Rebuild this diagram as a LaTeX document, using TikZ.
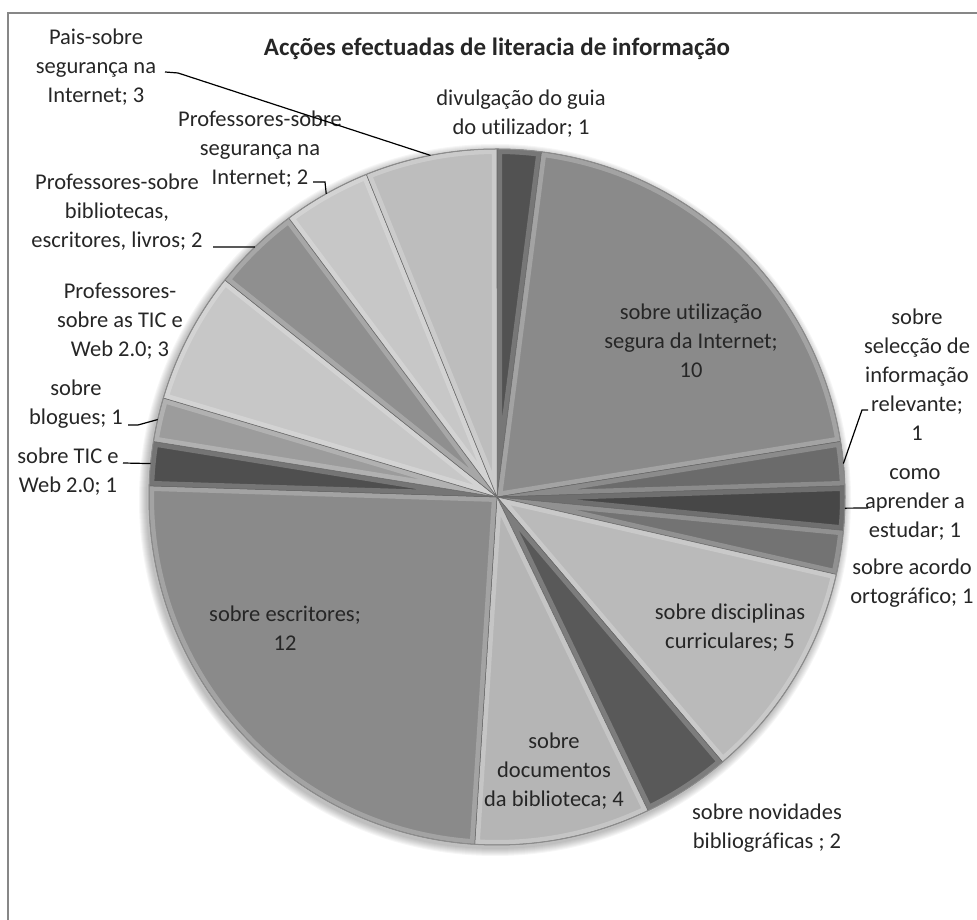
\documentclass[tikz,border=0pt]{standalone}
\usepackage{fontspec}
\setmainfont[Ligatures=NoCommon]{Carlito}

\newcommand{\lblfont}{\fontsize{22.5}{29}\selectfont}
\newcommand{\titlefont}{\fontsize{25}{30}\selectfont\bfseries}
\newcommand{\pieunit}{7.3469} % 360/49
\newcommand{\pierad}{348}

\begin{document}
\begin{tikzpicture}[x=1pt, y=1pt,
		lbl/.style={align=center, font=\lblfont, text=black!85, inner sep=0pt},
		leader/.style={black, line width=1.2pt},
		rim/.style={black!60, line width=0.5pt, line join=round}]

		\useasboundingbox (0,0) rectangle (977,920);

		% frame
		\draw[black!47, line width=2pt] (8,0) -- (8,907) -- (977,907);

		\coordinate (c) at (497,423);

		% shadow
		\foreach \k in {1,...,8}
			\fill[black, opacity=0.035] ([shift={(-2,-3)}]c) circle ({\pierad+\k});

		%% Slices %%
		%  start/end (in counts of 49)/black level
		\foreach \a/\b/\g in {0/1/68, 1/11/46, 11/12/58, 12/13/72, 13/14/55,
				14/19/27, 19/21/65, 21/25/29, 25/37/46, 37/38/69, 38/39/39,
				39/42/22, 42/44/44, 44/46/22, 46/49/26}
		{
			\def\slice{(c) -- ([shift={(90-\a*\pieunit:\pierad)}]c)
				arc[start angle=90-\a*\pieunit, end angle=90-\b*\pieunit, radius=\pierad] -- cycle}
			\fill[black!\g] \slice;
			\begin{scope}
				\clip \slice;
				\draw[white, opacity=0.22, line width=10pt, line join=round] \slice;
			\end{scope}
			\draw[rim] \slice;
		}
		% outer edge
		\draw[black!45, line width=1pt] (c) circle (\pierad);

		% title
		\node[lbl, font=\titlefont] (title) at (497,871) {Acções efectuadas de literacia de informação};

		% labels inside
		\node[lbl] (utiliz) at (691,579) {sobre utilização\\segura da Internet;\\10};
		\node[lbl] (discipl) at (730,292) {sobre disciplinas\\curriculares; 5};
		\node[lbl] (docum) at (554,149) {sobre\\documentos\\da biblioteca; 4};
		\node[lbl] (escrit) at (285,292) {sobre escritores;\\12};

		% labels outside
		\node[lbl] (divulg) at (521,806) {divulgação do guia\\do utilizador; 1};
		\node[lbl] (seleccao) at (917,545) {sobre\\selecção de\\informação\\relevante;\\1};
		\node[lbl] (aprender) at (915,416) {como\\aprender a\\estudar; 1};
		\node[lbl] (acordo) at (912,337) {sobre acordo\\ortográfico; 1};
		\node[lbl] (novid) at (767,92) {sobre novidades\\bibliográficas ; 2};
		\node[lbl] (tic) at (68,448) {sobre TIC e\\Web 2.0; 1};
		\node[lbl] (blogues) at (76,516) {sobre\\blogues; 1};
		\node[lbl] (proftic) at (120,599) {Professores-\\sobre as TIC e\\Web 2.0; 3};
		\node[lbl] (profbibl) at (117,708) {Professores-sobre\\bibliotecas,\\escritores, livros; 2};
		\node[lbl] (profseg) at (260,771) {Professores-sobre\\segurança na\\Internet; 2};
		\node[lbl] (pais) at (96,853) {Pais-sobre\\segurança na\\Internet; 3};

		% leader lines
		\foreach \n/\m in {pais/101.02, profseg/119.39, profbibl/134.08,
				blogues/167.14, tic/174.49, seleccao/5.51, aprender/-1.84}
			\coordinate (\n-s) at ([shift={(\m:\pierad)}]c);
		\coordinate (pais-l) at (165,848);
		\coordinate (profseg-l) at (313,738);
		\coordinate (profbibl-l) at (213,673);
		\coordinate (blogues-l) at (128,495);
		\coordinate (tic-l) at (123,457);
		\coordinate (seleccao-l) at (868,510);
		\coordinate (aprender-l) at (868,412);

		\draw[leader] (pais-l) -- ++(13,-1) -- (pais-s);
		\draw[leader] (profseg-l) -- ++(12,0) -- (profseg-s);
		\draw[leader] (profbibl-l) -- (profbibl-s);
		\draw[leader] (blogues-l) -- ++(10,0) -- (blogues-s);
		\draw[leader] (tic-l) -- (tic-s);
		\draw[leader] (seleccao-l) -- ++(-6,0) -- (seleccao-s);
		\draw[leader] (aprender-l) -- (aprender-s);

	\end{tikzpicture}
\end{document}
